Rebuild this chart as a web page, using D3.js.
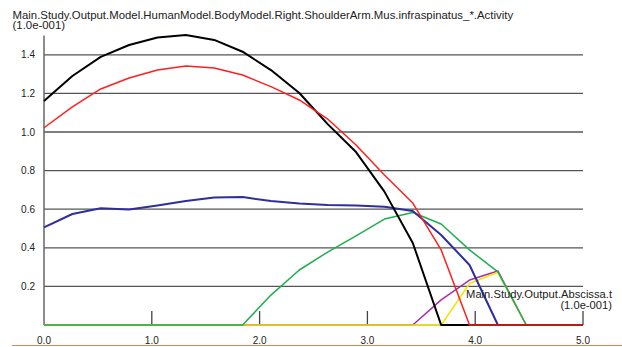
<!DOCTYPE html>
<html>
<head>
<meta charset="utf-8">
<script src="https://cdn.jsdelivr.net/npm/d3@7"></script>
<style>
  body { margin: 0; background: #fff; }
  text { font-family: "Liberation Sans", Arial, sans-serif; fill: #222; }
</style>
</head>
<body>
<svg id="chart" width="622" height="347"></svg>
<script>
// Tiempo de muestreo (20 muestras entre 0 y 5)
const t = d3.range(20).map(i => i * 5 / 19);

// Valores de cada serie (1.0e-001)
const black  = [1.161, 1.290, 1.389, 1.451, 1.490, 1.503, 1.477, 1.416, 1.321, 1.202, 1.041, 0.896, 0.691, 0.425, 0, 0, 0, 0, 0, 0];
const red    = [1.022, 1.130, 1.223, 1.280, 1.321, 1.342, 1.332, 1.295, 1.235, 1.166, 1.067, 0.933, 0.777, 0.632, 0.389, 0, 0, 0, 0, 0];
const blue   = [0.506, 0.575, 0.605, 0.598, 0.619, 0.642, 0.661, 0.663, 0.642, 0.630, 0.622, 0.619, 0.613, 0.591, 0.466, 0.311, 0, 0, 0, 0];
const green  = [0, 0, 0, 0, 0, 0, 0, 0, 0.155, 0.285, 0.378, 0.462, 0.549, 0.583, 0.523, 0.389, 0.275, 0, 0, 0];
const purple = [0, 0, 0, 0, 0, 0, 0, 0, 0, 0, 0, 0, 0, 0, 0.130, 0.233, 0.280, 0, 0, 0];
const yellow = [0, 0, 0, 0, 0, 0, 0, 0, 0, 0, 0, 0, 0, 0, 0, 0.215, 0.273, 0, 0, 0];

const yTicks = [0.2, 0.4, 0.6, 0.8, 1.0, 1.2, 1.4];
const xTicks = [0.0, 1.0, 2.0, 3.0, 4.0, 5.0];

// Orden de dibujo: la última queda encima
const series = [
  { values: purple, color: '#a52fa8', width: 1.5 },
  { values: yellow, color: '#f2e600', width: 1.5 },
  { values: green,  color: '#1fae4e', width: 1.5 },
  { values: blue,   color: '#2e2e9c', width: 2 },
  { values: black,  color: '#000000', width: 2 },
  { values: red,    color: '#ff1f1f', width: 1.5 }
];

const svg = d3.select('#chart');

const x = d3.scaleLinear().domain([0, 5]).range([44, 583]);
const y = d3.scaleLinear().domain([0, 1.5]).range([325, 35.5]);

// Título
svg.append('text')
  .attr('x', 12.5).attr('y', 18.5)
  .style('font-size', '11.4px')
  .text('Main.Study.Output.Model.HumanModel.BodyModel.Right.ShoulderArm.Mus.infraspinatus_*.Activity');
svg.append('text')
  .attr('x', 12.5).attr('y', 29)
  .style('font-size', '11.4px')
  .text('(1.0e-001)');

// Rejilla horizontal
svg.selectAll('.grid')
  .data(yTicks)
  .enter()
  .append('line')
  .attr('x1', x(0)).attr('x2', x(5))
  .attr('y1', d => y(d)).attr('y2', d => y(d))
  .attr('stroke', '#555')
  .attr('stroke-width', 1.3);

// Eje vertical
svg.append('line')
  .attr('x1', x(0)).attr('x2', x(0))
  .attr('y1', y(1.5)).attr('y2', y(0))
  .attr('stroke', '#666')
  .attr('stroke-width', 1.5);

svg.selectAll('.ylab')
  .data(yTicks)
  .enter()
  .append('text')
  .attr('x', 35).attr('y', d => y(d) + 3.5)
  .attr('text-anchor', 'end')
  .style('font-size', '10px')
  .text(d => d.toFixed(1));

// Eje horizontal
svg.append('line')
  .attr('x1', x(0)).attr('x2', x(5))
  .attr('y1', y(0)).attr('y2', y(0))
  .attr('stroke', '#666');

svg.selectAll('.xtick')
  .data(xTicks.slice(1))
  .enter()
  .append('line')
  .attr('x1', d => x(d)).attr('x2', d => x(d))
  .attr('y1', y(0) - 14).attr('y2', y(0))
  .attr('stroke', '#444')
  .attr('stroke-width', 1.3);

svg.selectAll('.xlab')
  .data(xTicks)
  .enter()
  .append('text')
  .attr('x', d => x(d)).attr('y', 344)
  .attr('text-anchor', 'middle')
  .style('font-size', '10px')
  .text(d => d.toFixed(1));

// Líneas de las series
const line = d3.line()
  .x((d, i) => x(t[i]))
  .y(d => y(d));

svg.selectAll('.serie')
  .data(series)
  .enter()
  .append('path')
  .attr('d', d => line(d.values))
  .attr('fill', 'none')
  .attr('stroke', d => d.color)
  .attr('stroke-width', d => d.width)
  .attr('stroke-linejoin', 'round');

// Etiqueta del eje x
svg.append('text')
  .attr('x', 612).attr('y', 297.5)
  .attr('text-anchor', 'end')
  .style('font-size', '11.2px')
  .text('Main.Study.Output.Abscissa.t');
svg.append('text')
  .attr('x', 612).attr('y', 309)
  .attr('text-anchor', 'end')
  .style('font-size', '11.2px')
  .text('(1.0e-001)');

// Línea inferior
svg.append('line')
  .attr('x1', 12).attr('x2', 622)
  .attr('y1', 345.5).attr('y2', 345.5)
  .attr('stroke', '#f07a62')
  .attr('stroke-width', 1.2);
</script>
</body>
</html>
